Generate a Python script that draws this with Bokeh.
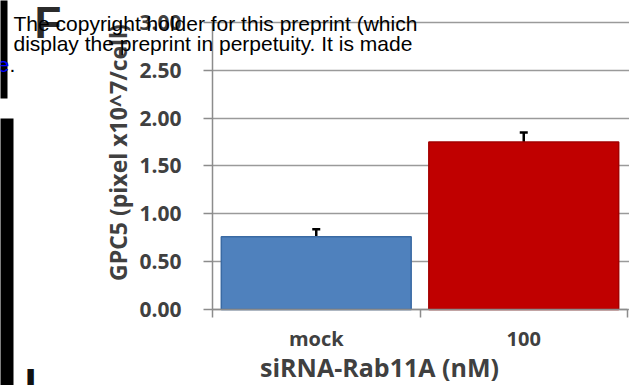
from math import pi
from bokeh.plotting import figure
from bokeh.models import (Range1d, FixedTicker, Label, Whisker, TeeHead, Grid,
                          ColumnDataSource, BoxAnnotation, NumeralTickFormatter)
from bokeh.embed import file_html
from bokeh.resources import INLINE

# ---- data ----
categories = ["mock", "100"]
values = [0.76, 1.75]
errors = [0.08, 0.10]
bar_colors = ["#4F81BD", "#C00000"]
bar_edge_colors = ["#3A6AA3", "#A30000"]
y_ticks = [0.0, 0.5, 1.0, 1.5, 2.0, 2.5, 3.0]
x_title = "siRNA-Rab11A (nM)"
y_title = "GPC5 (pixel x10^7/cell)"
overlay_lines = ["The copyright holder for this preprint (which",
                 "display the preprint in perpetuity. It is made"]

W, H = 629, 385
# pixel geometry of the plotting area inside the canvas
X0_PX, PX_PER_CAT = 212.0, 207.5
Y0_PX, PX_PER_UNIT = 309.0, 95.67


def X(px):
    return (px - X0_PX) / PX_PER_CAT


def Y(py):
    return (Y0_PX - py) / PX_PER_UNIT


p = figure(width=W, height=H, output_backend="svg", toolbar_location=None,
           x_range=Range1d(X(0), X(W)), y_range=Range1d(Y(H), Y(0)),
           min_border=0, min_border_left=0, min_border_right=0,
           min_border_top=0, min_border_bottom=0)
p.background_fill_color = "white"
p.border_fill_color = "white"
p.outline_line_color = None

centers = [i + 0.5 for i in range(len(categories))]
boundaries = list(range(len(categories) + 1))
n_cat = len(categories)

src = ColumnDataSource(dict(
    x=centers, top=values,
    upper=[v + e for v, e in zip(values, errors)],
    lower=[v - e for v, e in zip(values, errors)],
    fill=bar_colors, edge=bar_edge_colors))

# grid
AX = "#8c8c8c"
TXT = "#404040"
p.xgrid.visible = False
p.ygrid.grid_line_color = "#9a9a9a"
p.ygrid.grid_line_width = 1.5
p.ygrid.ticker = FixedTicker(ticks=y_ticks)
p.ygrid.bounds = (y_ticks[0], y_ticks[-1])
if "cross_bounds" in Grid.properties():
    p.ygrid.cross_bounds = (0, X(W))
else:
    p.ygrid.visible = False
    p.segment(x0=[0] * len(y_ticks), x1=[X(W)] * len(y_ticks), y0=y_ticks,
              y1=y_ticks, line_color="#9a9a9a", line_width=1.5)

p.vbar(x="x", top="top", bottom=0, width=0.915, source=src,
       fill_color="fill", line_color="edge", line_width=1.5)

p.add_layout(Whisker(source=src, base="x", upper="upper", lower="lower",
                     line_color="black", line_width=2.5,
                     upper_head=TeeHead(size=8, line_width=2.5, line_color="black"),
                     lower_head=TeeHead(size=8, line_width=2.5, line_color="black")))

# axes (drawn at fixed data locations so the canvas is one frame)
p.yaxis.fixed_location = 0
p.yaxis.bounds = (y_ticks[0], y_ticks[-1])
p.yaxis.ticker = FixedTicker(ticks=y_ticks)
p.yaxis.formatter = NumeralTickFormatter(format="0.00")
p.yaxis.major_tick_out = 9
p.yaxis.major_tick_in = 0
p.yaxis.minor_tick_line_color = None
p.yaxis.major_label_standoff = 22

p.xaxis.fixed_location = 0
p.xaxis.bounds = (0, n_cat)
p.xaxis.ticker = FixedTicker(ticks=centers, minor_ticks=boundaries)
p.xaxis.major_label_overrides = {c: n for c, n in zip(centers, categories)}
p.xaxis.major_tick_out = 0
p.xaxis.major_tick_in = 0
p.xaxis.minor_tick_in = 0
p.xaxis.minor_tick_out = 8
p.xaxis.major_label_standoff = 7

for ax in (p.xaxis, p.yaxis):
    ax.axis_line_color = AX
    ax.axis_line_width = 1.5
    ax.major_tick_line_color = AX
    ax.major_tick_line_width = 1.5
    ax.minor_tick_line_width = 1.5
    ax.major_label_text_font = "Open Sans"
    ax.major_label_text_font_style = "bold"
    ax.major_label_text_font_size = "21px"
    ax.major_label_text_color = TXT
p.xaxis.minor_tick_line_color = AX
p.xaxis.major_label_text_font_size = "20px"

# axis titles (anchor offsets account for the label's bottom anchoring)
p.add_layout(Label(x=X(379), y=Y(366), text=x_title, text_align="center",
                   text_baseline="alphabetic", text_font="Open Sans",
                   text_font_style="bold", text_font_size="25px", text_color=TXT))
p.add_layout(Label(x=X(117), y=Y(152), text=y_title, angle=pi / 2,
                   text_align="center", text_baseline="alphabetic",
                   text_font="Open Sans", text_font_style="bold",
                   text_font_size="23px", text_color=TXT))

# page decorations from the source figure
p.add_layout(BoxAnnotation(left=X(-2), right=X(7), top=Y(-2), bottom=Y(98),
                           fill_color="black", fill_alpha=1.0, line_color=None))
p.add_layout(BoxAnnotation(left=X(-2), right=X(13), top=Y(118), bottom=Y(390),
                           fill_color="black", fill_alpha=1.0, line_color=None))
p.add_layout(Label(x=X(34), y=Y(22), text="F", text_baseline="alphabetic",
                   text_font="Liberation Sans", text_font_style="bold",
                   text_font_size="44px", text_color="#2b2b2b"))
p.add_layout(Label(x=X(24), y=Y(384), text="L", text_baseline="alphabetic",
                   text_font="Liberation Sans", text_font_style="bold",
                   text_font_size="44px", text_color="#111111"))

for i, line in enumerate(overlay_lines):
    p.add_layout(Label(x=X(13), y=Y(23 + 20 * i), text=line,
                       text_baseline="alphabetic",
                       text_font="Liberation Sans",
                       text_font_size="21px", text_color="black"))
p.add_layout(Label(x=X(-3), y=Y(64), text="e", text_baseline="alphabetic",
                   text_font="Liberation Sans", text_font_size="21px",
                   text_color="#0000ff"))
p.add_layout(Label(x=X(9), y=Y(64), text=".", text_baseline="alphabetic",
                   text_font="Liberation Sans", text_font_size="21px",
                   text_color="black"))

open("out.html", "w").write(file_html(p, INLINE))
